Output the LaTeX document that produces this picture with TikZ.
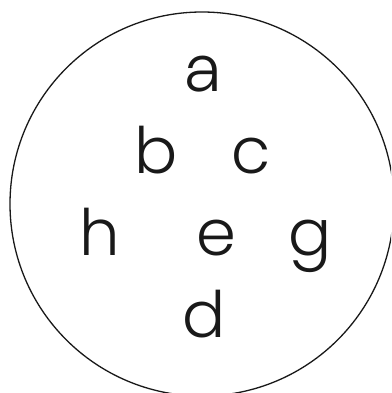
\documentclass[tikz,border=0pt]{standalone}
\usepackage{fontspec}
\setmainfont{Poppins}[UprightFont=*-Light,StylisticSet={1,2}]
\begin{document}
\begin{tikzpicture}[x=1pt,y=1pt,
  letter/.style={anchor=base,inner sep=0pt,font=\fontsize{64}{64}\selectfont,text=black!90},
  ring/.style={draw=black!90,line width=1.3pt}]
\useasboundingbox (0,0) rectangle (391,-393);
\clip (0,0) rectangle (391,-393);
\fill[white] (0,0) rectangle (391,-393);
\node[ring,circle,minimum size=384pt,inner sep=0pt] (ring) at (202,-204) {};
\node[letter] (a) at (203,-92) {a};
\node[letter] (b) at (156,-173) {b};
\node[letter] (c) at (251,-173) {c};
\node[letter] (h) at (100,-255) {h};
\node[letter] (e) at (216,-255) {e};
\node[letter] (g) at (310,-255) {g};
\node[letter] (d) at (204,-337) {d};
\end{tikzpicture}
\end{document}
